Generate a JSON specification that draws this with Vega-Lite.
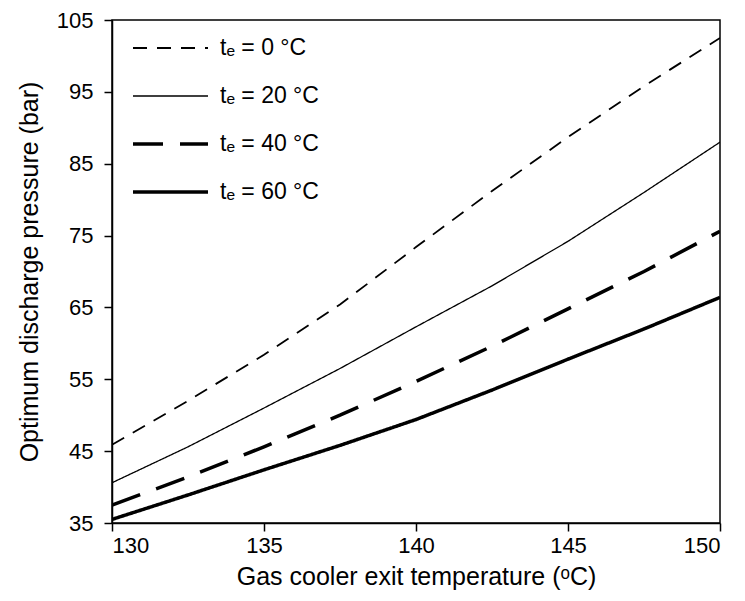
{
  "$schema": "https://vega.github.io/schema/vega-lite/v6.json",
  "width": 608,
  "height": 503,
  "autosize": {"type": "none"},
  "padding": {"left": 112, "top": 20, "right": 25, "bottom": 78},
  "background": "white",
  "config": {
    "font": "Liberation Sans",
    "view": {"stroke": "black", "strokeWidth": 1.5},
    "axis": {"grid": false, "domainColor": "black", "domainWidth": 1.5, "tickColor": "black", "tickWidth": 1.5, "tickSize": 8, "labelColor": "black", "titleColor": "black", "labelFontSize": 22, "titleFontSize": 25, "titleFontWeight": "normal", "labelFont": "Liberation Sans", "titleFont": "Liberation Sans"}
  },
  "data": {"values": [
    {"T": 130, "p": 45.9, "series": "tₑ = 0 °C"},
    {"T": 132.5, "p": 52.0, "series": "tₑ = 0 °C"},
    {"T": 135, "p": 58.4, "series": "tₑ = 0 °C"},
    {"T": 137.5, "p": 65.4, "series": "tₑ = 0 °C"},
    {"T": 140, "p": 73.4, "series": "tₑ = 0 °C"},
    {"T": 142.5, "p": 81.2, "series": "tₑ = 0 °C"},
    {"T": 145, "p": 88.7, "series": "tₑ = 0 °C"},
    {"T": 147.5, "p": 95.8, "series": "tₑ = 0 °C"},
    {"T": 150, "p": 102.5, "series": "tₑ = 0 °C"},
    {"T": 130, "p": 40.6, "series": "tₑ = 20 °C"},
    {"T": 132.5, "p": 45.6, "series": "tₑ = 20 °C"},
    {"T": 135, "p": 51.0, "series": "tₑ = 20 °C"},
    {"T": 137.5, "p": 56.5, "series": "tₑ = 20 °C"},
    {"T": 140, "p": 62.3, "series": "tₑ = 20 °C"},
    {"T": 142.5, "p": 68.0, "series": "tₑ = 20 °C"},
    {"T": 145, "p": 74.2, "series": "tₑ = 20 °C"},
    {"T": 147.5, "p": 81.0, "series": "tₑ = 20 °C"},
    {"T": 150, "p": 88.0, "series": "tₑ = 20 °C"},
    {"T": 130, "p": 37.5, "series": "tₑ = 40 °C"},
    {"T": 132.5, "p": 41.4, "series": "tₑ = 40 °C"},
    {"T": 135, "p": 45.6, "series": "tₑ = 40 °C"},
    {"T": 137.5, "p": 50.0, "series": "tₑ = 40 °C"},
    {"T": 140, "p": 54.7, "series": "tₑ = 40 °C"},
    {"T": 142.5, "p": 59.6, "series": "tₑ = 40 °C"},
    {"T": 145, "p": 64.8, "series": "tₑ = 40 °C"},
    {"T": 147.5, "p": 70.0, "series": "tₑ = 40 °C"},
    {"T": 150, "p": 75.6, "series": "tₑ = 40 °C"},
    {"T": 130, "p": 35.5, "series": "tₑ = 60 °C"},
    {"T": 132.5, "p": 38.9, "series": "tₑ = 60 °C"},
    {"T": 135, "p": 42.4, "series": "tₑ = 60 °C"},
    {"T": 137.5, "p": 45.8, "series": "tₑ = 60 °C"},
    {"T": 140, "p": 49.4, "series": "tₑ = 60 °C"},
    {"T": 142.5, "p": 53.5, "series": "tₑ = 60 °C"},
    {"T": 145, "p": 57.8, "series": "tₑ = 60 °C"},
    {"T": 147.5, "p": 62.0, "series": "tₑ = 60 °C"},
    {"T": 150, "p": 66.4, "series": "tₑ = 60 °C"}
  ]},
  "mark": {"type": "line", "color": "black", "clip": true},
  "encoding": {
    "x": {"field": "T", "type": "quantitative", "scale": {"domain": [130, 150], "nice": false, "zero": false}, "axis": {"values": [130, 135, 140, 145, 150], "title": "Gas cooler exit temperature (ᵒC)", "titlePadding": 8, "labelPadding": 4}},
    "y": {"field": "p", "type": "quantitative", "scale": {"domain": [35, 105], "nice": false, "zero": false}, "axis": {"values": [35, 45, 55, 65, 75, 85, 95, 105], "title": "Optimum discharge pressure (bar)", "titlePadding": 14, "labelPadding": 11}},
    "strokeDash": {"field": "series", "type": "nominal", "sort": ["tₑ = 0 °C", "tₑ = 20 °C", "tₑ = 40 °C", "tₑ = 60 °C"], "scale": {"domain": ["tₑ = 0 °C", "tₑ = 20 °C", "tₑ = 40 °C", "tₑ = 60 °C"], "range": [[14, 10], [1, 0], [30, 17], [1, 0]]}, "legend": {"orient": "none", "legendX": 19, "legendY": 6, "title": null, "symbolType": "stroke", "symbolSize": 5625, "symbolStrokeColor": "black", "labelFontSize": 23, "labelColor": "black", "labelOffset": 10, "clipHeight": 44, "rowPadding": 4}},
    "strokeWidth": {"field": "series", "type": "nominal", "sort": ["tₑ = 0 °C", "tₑ = 20 °C", "tₑ = 40 °C", "tₑ = 60 °C"], "scale": {"type": "ordinal", "domain": ["tₑ = 0 °C", "tₑ = 20 °C", "tₑ = 40 °C", "tₑ = 60 °C"], "range": [1.8, 1.3, 3.5, 3.5]}, "legend": null}
  }
}
